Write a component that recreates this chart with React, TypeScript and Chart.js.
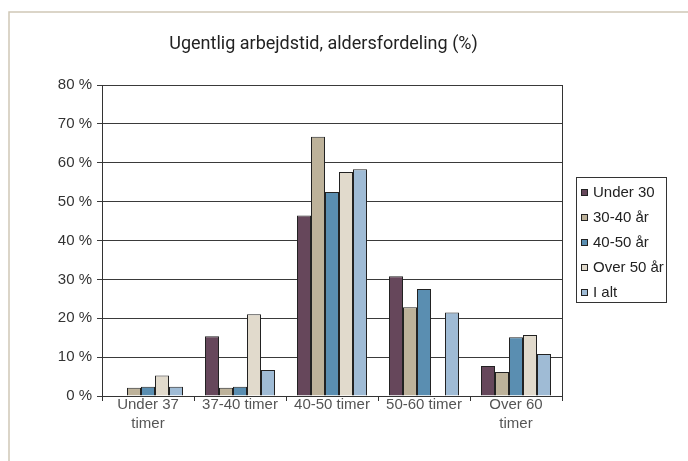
import React, { useEffect, useRef } from "react";
import { Chart, registerables } from "chart.js";

Chart.register(...registerables);

const title = "Ugentlig arbejdstid, aldersfordeling (%)";
const categories: (string | string[])[] = [["Under 37", "timer"], "37-40 timer", "40-50 timer", "50-60 timer", ["Over 60", "timer"]];
const seriesNames = ["Under 30", "30-40 år", "40-50 år", "Over 50 år", "I alt"];
const under30 = [null, 15.4, 46.4, 30.8, 7.7];
const age30to40 = [2.1, 2.1, 66.7, 22.8, 6.2];
const age40to50 = [2.4, 2.4, 52.5, 27.5, 15.1];
const over50 = [5.3, 21.0, 57.6, null, 15.7];
const total = [2.4, 6.7, 58.3, 21.5, 10.8];
const seriesColors = ["#66475B", "#BDB29A", "#5A8EB1", "#E1DACC", "#9FBBD5"];
const yMin = 0;
const yMax = 80;
const yStep = 10;

const FONT = "'Liberation Sans', Arial, sans-serif";

const decorPlugin = {
  id: "decor",
  beforeDraw(chart: any) {
    const ctx = chart.ctx;
    ctx.save();
    ctx.fillStyle = "#ffffff";
    ctx.fillRect(0, 0, chart.width, chart.height);
    ctx.strokeStyle = "#CFC8B6";
    ctx.lineWidth = 1.5;
    ctx.beginPath();
    ctx.moveTo(9, chart.height + 2);
    ctx.lineTo(9, 12);
    ctx.lineTo(chart.width + 2, 12);
    ctx.stroke();
    ctx.restore();
  },
  afterDraw(chart: any) {
    const ctx = chart.ctx;
    const area = chart.chartArea;
    ctx.save();
    // right border of plot
    ctx.strokeStyle = "#333";
    ctx.lineWidth = 1;
    ctx.beginPath();
    ctx.moveTo(Math.round(area.right) + 0.5, area.top);
    ctx.lineTo(Math.round(area.right) + 0.5, area.bottom);
    ctx.stroke();
    // title
    ctx.fillStyle = "#222";
    ctx.font = "18px Roboto, sans-serif";
    ctx.textAlign = "center";
    ctx.textBaseline = "alphabetic";
    ctx.fillText(title, 323.5, 48.5);
    // legend
    const lx = 576.5, ly = 177.5, lw = 90, lh = 125;
    ctx.strokeStyle = "#333";
    ctx.strokeRect(lx, ly, lw, lh);
    ctx.font = "15px " + FONT;
    ctx.textAlign = "left";
    ctx.textBaseline = "middle";
    chart.data.datasets.forEach((ds: any, i: number) => {
      const cy = 193 + 25 * i;
      ctx.fillStyle = ds.backgroundColor;
      ctx.fillRect(581, cy - 4, 7, 7);
      ctx.strokeStyle = "#222";
      ctx.strokeRect(581.5, cy - 3.5, 6, 6);
      ctx.fillStyle = "#222";
      ctx.fillText(ds.label, 593, cy);
    });
    ctx.restore();
  },
};

export default function App() {
  const canvasRef = useRef<HTMLCanvasElement | null>(null);

  useEffect(() => {
    const seriesValues = [under30, age30to40, age40to50, over50, total];
    const chart = new Chart(canvasRef.current as HTMLCanvasElement, {
      type: "bar",
      data: {
        labels: categories,
        datasets: seriesNames.map((name, i) => ({
          label: name,
          data: seriesValues[i],
          backgroundColor: seriesColors[i],
          borderColor: "#222",
          borderWidth: 1,
          categoryPercentage: 70 / 92,
          barPercentage: 1,
        })),
      },
      options: {
        animation: false,
        responsive: false,
        layout: { padding: { left: 0, right: 126, top: 85, bottom: 0 } },
        plugins: {
          legend: { display: false },
          title: { display: false },
          tooltip: { enabled: false },
        },
        scales: {
          x: {
            grid: {
              display: true,
              drawOnChartArea: false,
              drawTicks: true,
              tickLength: 5,
              offset: true,
              color: "#333",
            },
            border: { display: true, color: "#333" },
            ticks: {
              color: "#555",
              font: { family: FONT, size: 15, lineHeight: 1.27 },
              padding: -6,
              maxRotation: 0,
              autoSkip: false,
            },
            afterFit(scale: any) {
              scale.height = 65;
            },
          },
          y: {
            min: yMin,
            max: yMax,
            grid: { color: "#3a3a3a", tickLength: 5, drawTicks: true },
            border: { display: true, color: "#333" },
            ticks: {
              stepSize: yStep,
              color: "#333",
              font: { family: FONT, size: 15 },
              padding: 5,
              callback: (v: any) => v + " %",
            },
            afterFit(scale: any) {
              scale.width = 102;
            },
          },
        },
      },
      plugins: [decorPlugin],
    });
    return () => chart.destroy();
  }, []);

  return (
    <div style={{ position: "absolute", left: 0, top: 0, width: 688, height: 461 }}>
      <canvas ref={canvasRef} width={688} height={461} style={{ width: 688, height: 461, display: "block" }} />
    </div>
  );
}
